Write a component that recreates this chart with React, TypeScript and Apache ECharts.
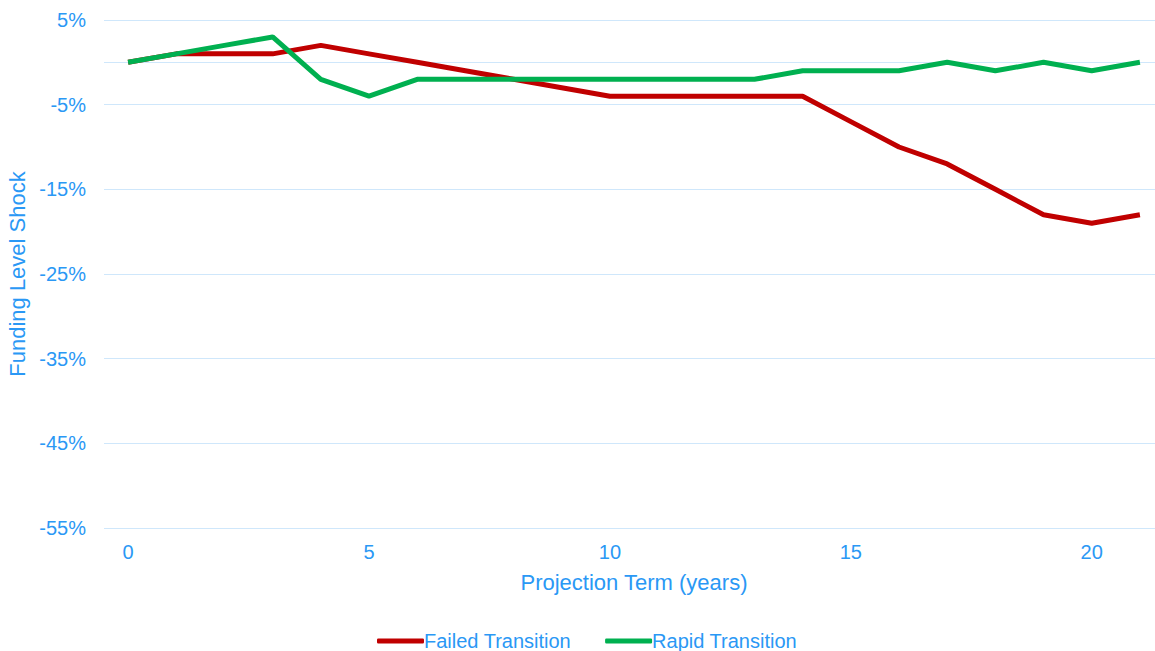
import React, { useEffect, useRef } from "react";
import * as echarts from "echarts";

const years = ["0","1","2","3","4","5","6","7","8","9","10","11","12","13","14","15","16","17","18","19","20","21"];
const failedTransition = [0, 1, 1, 1, 2, 1, 0, -1, -2, -3, -4, -4, -4, -4, -4, -7, -10, -12, -15, -18, -19, -18];
const rapidTransition = [0, 1, 2, 3, -2, -4, -2, -2, -2, -2, -2, -2, -2, -2, -1, -1, -1, 0, -1, 0, -1, 0];

const TEXT = "#2A98F5";
const GRID = "#CFE7FB";
const FONT = "'Liberation Sans', Arial, sans-serif";

export default function App() {
  const ref = useRef<HTMLDivElement>(null);
  useEffect(() => {
    if (!ref.current) return;
    const chart = echarts.init(ref.current, undefined, { renderer: "svg" });
    chart.setOption({
      animation: false,
      textStyle: { fontFamily: FONT },
      grid: { left: 104, right: -9, top: 20, bottom: 123, containLabel: false, outerBoundsMode: "none" },
      xAxis: {
        type: "category",
        data: years,
        boundaryGap: true,
        name: "Projection Term (years)",
        nameLocation: "middle",
        nameGap: 43,
        nameTextStyle: { color: TEXT, fontSize: 22, fontFamily: FONT },
        axisLine: { show: false },
        axisTick: { show: false },
        axisLabel: { interval: 4, color: TEXT, fontSize: 20, margin: 14, fontFamily: FONT },
        splitLine: { show: false },
      },
      yAxis: {
        type: "value",
        min: -55,
        max: 5,
        interval: 5,
        name: "Funding Level Shock",
        nameLocation: "middle",
        nameGap: 67,
        nameRotate: 90,
        nameTextStyle: { color: TEXT, fontSize: 22, fontFamily: FONT },
        axisLine: { show: false },
        axisTick: { show: false },
        axisLabel: {
          color: TEXT,
          fontSize: 20,
          margin: 18,
          fontFamily: FONT,
          formatter: (v: number) => (Math.round(v) % 10 === 0 ? "" : `${v}%`),
        },
        splitLine: { show: true, lineStyle: { color: [GRID, "rgba(0,0,0,0)"], width: 1 } },
      },
      legend: {
        bottom: 0,
        left: 377,
        padding: 0,
        itemWidth: 47,
        itemHeight: 5,
        itemGap: 34,
        icon: "roundRect",
        textStyle: { color: TEXT, fontSize: 20, fontFamily: FONT, padding: [0, 0, 0, -5] },
        data: [
          { name: "Failed Transition", icon: "roundRect", itemStyle: { color: "#C00000" } },
          { name: "Rapid Transition", icon: "roundRect", itemStyle: { color: "#00B050" } },
        ],
      },
      series: [
        {
          name: "Failed Transition",
          type: "line",
          data: failedTransition,
          symbol: "none",
          lineStyle: { color: "#C00000", width: 5 },
          itemStyle: { color: "#C00000" },
          markLine: {
            silent: true,
            symbol: "none",
            label: { show: false },
            lineStyle: { color: GRID, width: 1, type: "solid" },
            data: [{ yAxis: 0 }],
            z: 0,
          },
        },
        {
          name: "Rapid Transition",
          type: "line",
          data: rapidTransition,
          symbol: "none",
          lineStyle: { color: "#00B050", width: 5 },
          itemStyle: { color: "#00B050" },
        },
      ],
    });
    return () => chart.dispose();
  }, []);
  return (
    <div
      ref={ref}
      style={{ position: "absolute", left: 0, top: 0, width: 1155, height: 651, background: "#fff", overflow: "hidden" }}
    />
  );
}
